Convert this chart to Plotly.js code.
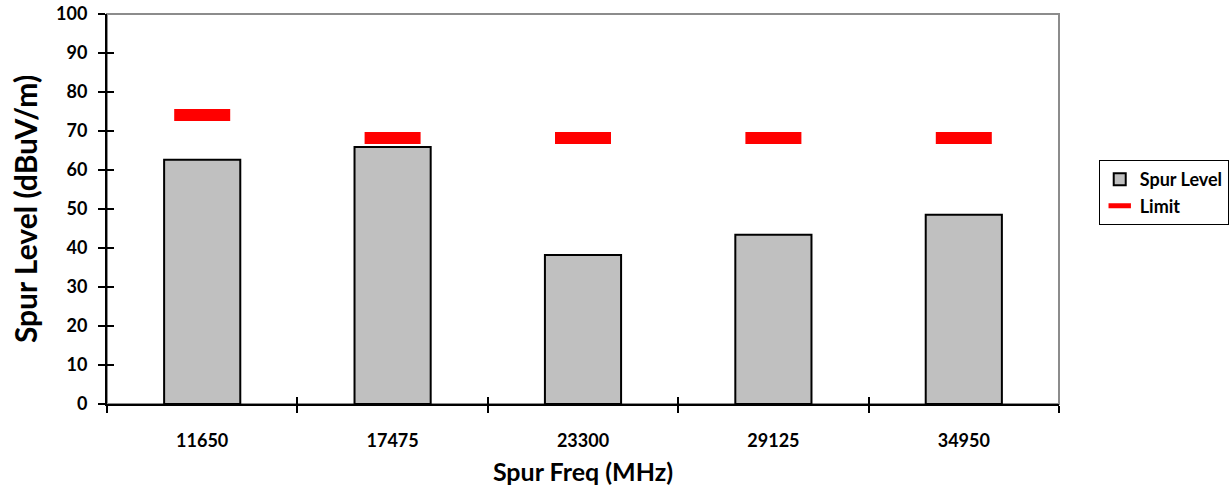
<!DOCTYPE html>
<html>
<head>
<meta charset="utf-8">
<script src="https://cdn.plot.ly/plotly-3.0.1.min.js"></script>
<style>html,body{margin:0;padding:0;background:#fff;}#chart{width:1229px;height:494px;}</style>
</head>
<body>
<div id="chart"></div>
<script>
const categories = ["11650", "17475", "23300", "29125", "34950"];
const spurLevel = [62.6, 65.9, 38.2, 43.4, 48.5];
const limitLevel = [74.1, 68.2, 68.2, 68.2, 68.2];
const yTicks = [0, 10, 20, 30, 40, 50, 60, 70, 80, 90, 100];

const FONT = "Lato, 'Open Sans', sans-serif";

const traces = [
  {
    type: "bar", name: "Spur Level", x: categories, y: spurLevel,
    width: 0.4,
    marker: {color: "#c0c0c0", line: {color: "#000", width: 2}},
    hoverinfo: "x+y"
  },
  {
    type: "scatter", mode: "markers", name: "Limit", x: categories, y: limitLevel,
    marker: {symbol: "line-ew", size: 40, color: "#ff0000", line: {color: "#ff0000", width: 12}},
    hoverinfo: "x+y"
  },
  {
    type: "bar", x: categories, y: spurLevel, xaxis: "x2", yaxis: "y2",
    width: 0.4, opacity: 0, showlegend: false, hoverinfo: "skip"
  }
];

const layout = {
  width: 1229, height: 494,
  margin: {l: 107, r: 170, t: 14, b: 90},
  paper_bgcolor: "#fff", plot_bgcolor: "#fff",
  font: {family: FONT, color: "#000", size: 18, weight: "bold"},
  showlegend: true,
  legend: {
    xref: "container", yref: "container",
    x: 0.894, y: 0.676, xanchor: "left", yanchor: "top",
    bordercolor: "#000", borderwidth: 1, bgcolor: "#fff",
    font: {family: FONT, size: 18, color: "#000", weight: "bold"},
    itemwidth: 30, tracegroupgap: 4
  },
  xaxis: {
    type: "category", categoryarray: categories, range: [-0.5, 4.5],
    showline: true, linecolor: "#000", linewidth: 2,
    ticks: "outside", ticklen: 7, tickwidth: 2, tickcolor: "#000",
    tickson: "boundaries", ticklabelstandoff: 19,
    showgrid: false, zeroline: false,
    tickfont: {family: FONT, size: 18, weight: "bold"},
    title: {text: "Spur Freq (MHz)", font: {family: FONT, size: 25, weight: "bold"}, standoff: 14}
  },
  yaxis: {
    range: [0, 100], tickvals: yTicks,
    showline: true, linecolor: "#000", linewidth: 2,
    ticks: "outside", ticklen: 7, tickwidth: 2, tickcolor: "#000",
    ticklabelstandoff: 7,
    showgrid: false, zeroline: false,
    tickfont: {family: FONT, size: 18, weight: "bold"},
    title: {text: "Spur Level (dBuV/m)", font: {family: FONT, size: 30, weight: "bold"}, standoff: 10}
  },
  xaxis2: {
    type: "category", categoryarray: categories, range: [-0.5, 4.5],
    overlaying: "x", side: "bottom", anchor: "y2",
    ticks: "inside", ticklen: 7, tickwidth: 2, tickcolor: "#000",
    tickson: "boundaries", showticklabels: false, showgrid: false, zeroline: false, showline: false
  },
  yaxis2: {
    range: [0, 100], tickvals: yTicks, overlaying: "y", side: "left", anchor: "x2",
    ticks: "inside", ticklen: 7, tickwidth: 2, tickcolor: "#000",
    showticklabels: false, showgrid: false, zeroline: false, showline: false
  },
  shapes: [
    {type: "rect", xref: "paper", yref: "paper", x0: 0, x1: 1, y0: 0, y1: 1,
     line: {color: "#8c8c8c", width: 2}, layer: "below"}
  ]
};

Plotly.newPlot("chart", traces, layout, {displayModeBar: false});
</script>
</body>
</html>
